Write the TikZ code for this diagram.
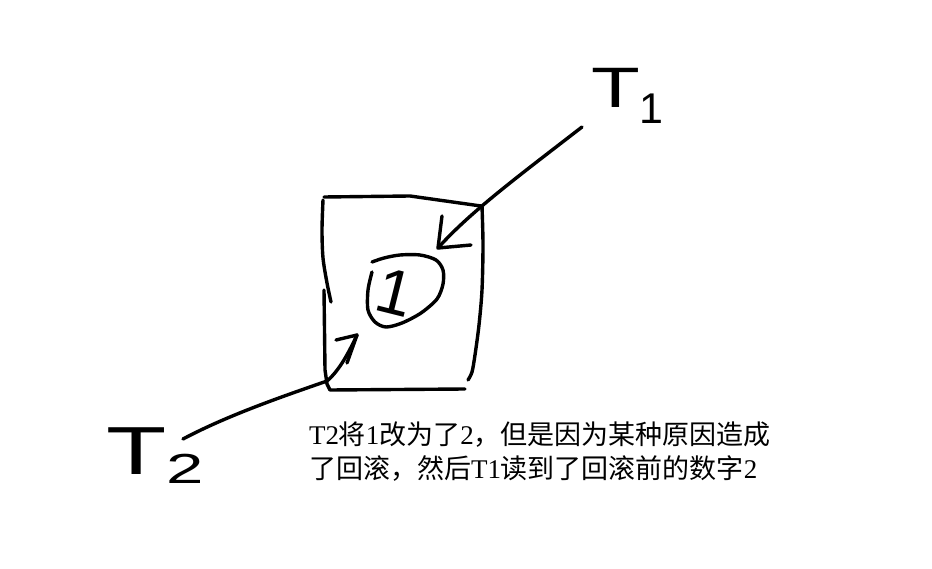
\documentclass[tikz,border=0pt]{standalone}
\usepackage{fontspec}
\setmainfont{Liberation Sans}
\newfontfamily\cjk{Noto Sans CJK SC}
\newfontfamily\lser{Liberation Serif}
\begin{document}
\begin{tikzpicture}[x=1pt,y=-1pt,
  pen/.style={line width=3.4pt,line cap=round,line join=round,black},
  hand/.style={inner sep=0pt,outer sep=0pt,anchor=base west},
  note/.style={inner sep=0pt,outer sep=0pt,anchor=base west,font=\cjk\fontsize{27}{34}\selectfont}]
\useasboundingbox[fill=white] (0,0) rectangle (932,569);

% labels T1, T2
\node[hand] (T1) at (591,108) {\scalebox{1.4}[1]{\fontsize{57}{57}\selectfont T}\raisebox{-16pt}{\fontsize{43}{43}\selectfont 1}};
\node[hand] (T2) at (106,474) {\scalebox{1.45}[1]{\fontsize{68}{68}\selectfont T}\raisebox{-9pt}{\scalebox{1.6}[1]{\fontsize{42}{42}\selectfont 2}}};

% box (hand drawn)
\draw[pen] (324,197) -- (410,196) -- (481,206);
\draw[pen] plot[smooth] coordinates {(482,206) (483,245) (482,290) (479,325) (475,355) (472,372) (468,380)};
\draw[pen] plot[smooth] coordinates {(323,200) (322,230) (323,258) (327,283) (331,302)};
\draw[pen] (324,290) -- (325,370) -- (327,384) -- (330,390) -- (465,389);

% value 1 in its oval
\node[inner sep=0pt,rotate=-14] (val) at (395,292) {\fontsize{64}{64}\selectfont 1};
\draw[pen] plot[smooth] coordinates {(372,272) (368,290) (368,310) (375,322) (386,327) (402,323) (421,313) (437,299) (443,284) (443,270) (436,260) (420,255) (400,255) (384,258) (372,262)};

% connectors
\coordinate (t1s) at (582,127);
\coordinate (t1e) at (438,248);
\coordinate (t2s) at (183,439);
\coordinate (t2m) at (327,381);
\coordinate (t2e) at (357,335);
\draw[pen] (t1s) .. controls (520,175) and (470,212) .. (t1e);
\draw[pen] (442,216) -- (t1e) -- (471,245);
\draw[pen] (t2s) .. controls (230,414) and (290,394) .. (t2m) .. controls (340,370) and (350,350) .. (t2e);
\draw[pen] (336,340) -- (t2e) -- (347,363);

% note
\node[note] (line1) at (309,444) {{\lser T2}将{\lser 1}改为了{\lser 2}，但是因为某种原因造成};
\node[note] (line2) at (309,478) {了回滚，然后{\lser T1}读到了回滚前的数字{\lser 2}};
\end{tikzpicture}
\end{document}
